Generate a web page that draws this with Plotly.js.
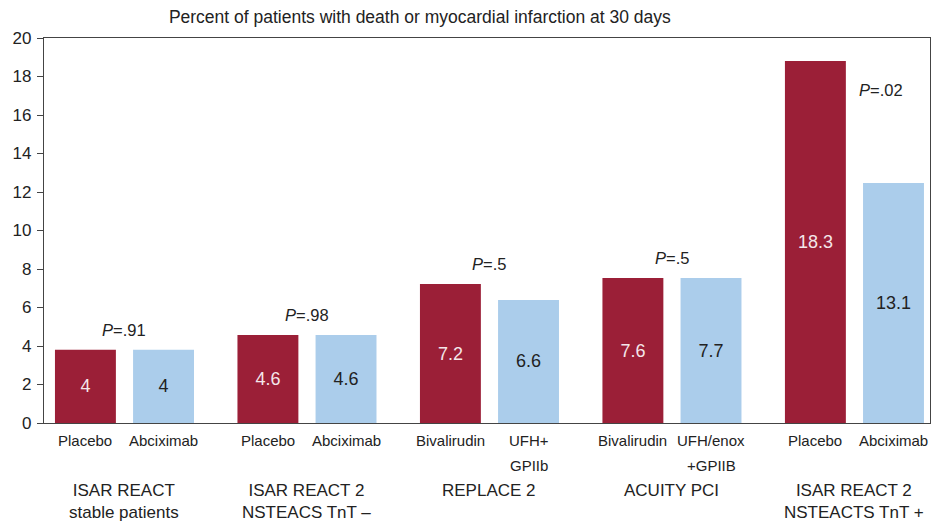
<!DOCTYPE html>
<html>
<head>
<meta charset="utf-8">
<script src="https://cdn.plot.ly/plotly-3.0.1.min.js"></script>
<style>html,body{margin:0;padding:0;background:#fff;}#chart{width:933px;height:524px;}</style>
</head>
<body>
<div id="chart"></div>
<script>
// ---- data ----
var groupNames = ["ISAR REACT<br>stable patients", "ISAR REACT 2<br>NSTEACS TnT \u2013", "REPLACE 2", "ACUITY PCI", "ISAR REACT 2<br>NSTEACTS TnT +"];
var namesA = ["Placebo", "Placebo", "Bivalirudin", "Bivalirudin", "Placebo"];
var namesB = ["Abciximab", "Abciximab", "UFH+|GPIIb", "UFH/enox|+GPIIB", "Abciximab"];
var valuesA = [3.8, 4.57, 7.22, 7.53, 18.8];
var valuesB = [3.8, 4.57, 6.39, 7.53, 12.47];
var labelsA = ["4", "4.6", "7.2", "7.6", "18.3"];
var labelsB = ["4", "4.6", "6.6", "7.7", "13.1"];
var pValues = [".91", ".98", ".5", ".5", ".02"];
var yTicks = [0, 2, 4, 6, 8, 10, 12, 14, 16, 18, 20];

// ---- style ----
var RED = "rgb(155,31,55)", BLUE = "rgb(171,205,235)";
var FONT = "Liberation Sans, Arial, sans-serif";
var bargap = 0.144, bargroupgap = 0.22;
var offset = (1 - bargap) / 4;

var xs = groupNames.map(function (_, i) { return i; });

var traces = [
  {type: "bar", x: xs, y: valuesA, text: labelsA, textposition: "inside", insidetextanchor: "middle",
   textangle: 0, textfont: {family: FONT, size: 18, color: "#f4e6ea"}, marker: {color: RED}, hoverinfo: "none", cliponaxis: false},
  {type: "bar", x: xs, y: valuesB, text: labelsB, textposition: "inside", insidetextanchor: "middle",
   textangle: 0, textfont: {family: FONT, size: 18, color: "#222"}, marker: {color: BLUE}, hoverinfo: "none", cliponaxis: false}
];

var ann = [];
function addName(label, x) {
  label.split("|").forEach(function (line, k) {
    ann.push({x: x, y: 0, xref: "x", yref: "paper", yanchor: "middle", yshift: -17 - 25 * k,
      text: line, showarrow: false, font: {family: FONT, size: 15, color: "#222"}});
  });
}
xs.forEach(function (x, i) {
  addName(namesA[i], x - offset);
  addName(namesB[i], x + offset);
  ann.push({x: x, y: 0, xref: "x", yref: "paper", yanchor: "top", yshift: -56,
    text: groupNames[i], showarrow: false, font: {family: FONT, size: 17, color: "#222"}});
  var last = (i === xs.length - 1);
  ann.push({
    x: last ? x + offset : x, xshift: last ? -13 : 0,
    y: last ? 17.3 : Math.max(valuesA[i], valuesB[i]), yshift: last ? 0 : 20,
    xref: "x", yref: "y", yanchor: "middle",
    text: "<i>P</i>=" + pValues[i], showarrow: false, font: {family: FONT, size: 16.5, color: "#222"}
  });
});

var layout = {
  width: 933, height: 524,
  margin: {l: 44, r: 3, t: 38, b: 101},
  paper_bgcolor: "#fff", plot_bgcolor: "#fff",
  barmode: "group", bargap: bargap, bargroupgap: bargroupgap,
  showlegend: false,
  title: {text: "Percent of patients with death or myocardial infarction at 30 days",
    x: 0.45, xanchor: "center", y: 0.967, yanchor: "middle",
    font: {family: FONT, size: 17.5, color: "#222"}},
  xaxis: {range: [-0.441, 4.414], showticklabels: false, ticks: "", showgrid: false, zeroline: false,
    showline: true, mirror: true, linecolor: "#444", linewidth: 1.2, fixedrange: true},
  yaxis: {range: [0, 20], tickvals: yTicks, ticks: "outside", ticklen: 6, tickcolor: "#444",
    showgrid: false, zeroline: false, showline: true, mirror: true, linecolor: "#444", linewidth: 1.2,
    tickfont: {family: FONT, size: 17, color: "#222"}, ticklabelstandoff: 2, fixedrange: true},
  annotations: ann
};

Plotly.newPlot("chart", traces, layout, {displayModeBar: false, staticPlot: true});
</script>
</body>
</html>
